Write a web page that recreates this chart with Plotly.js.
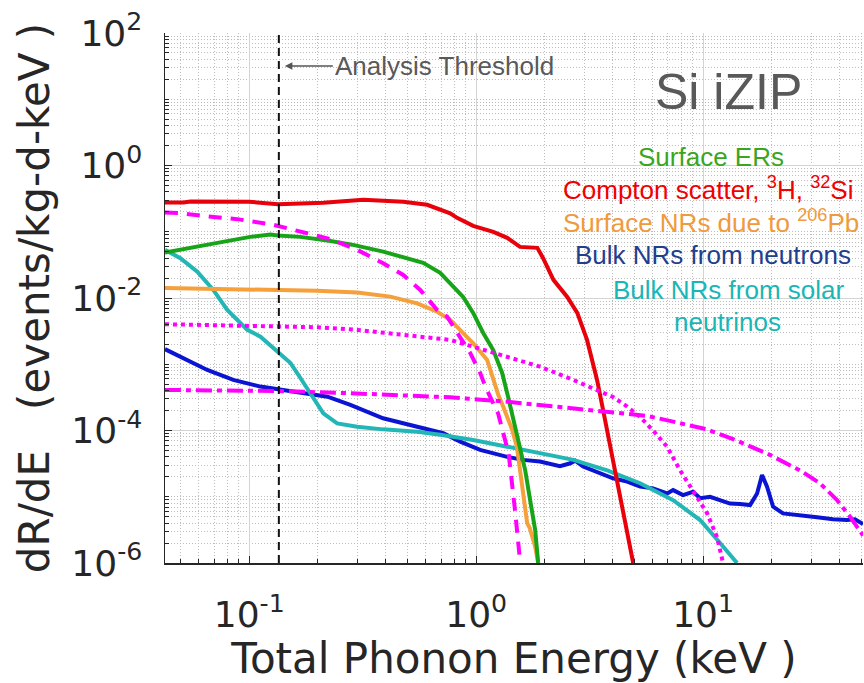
<!DOCTYPE html>
<html>
<head>
<meta charset="utf-8">
<script src="https://cdn.plot.ly/plotly-3.0.1.min.js"></script>
<style>
  html, body { margin: 0; padding: 0; background: #fff; }
  #chart { width: 864px; height: 683px; }
</style>
</head>
<body>
<div id="chart"></div>
<script>
// Background spectra for the Si iZIP detector: dR/dE vs total phonon energy.

// Compton scatter, 3H, 32Si
const comptonE = [0.0425, 0.0512, 0.055, 0.0745, 0.1, 0.134, 0.212, 0.318, 0.366, 0.477, 0.608, 0.694, 0.768, 0.824, 0.97, 1.19, 1.37, 1.56, 1.86, 1.97, 2.19, 2.52, 2.79, 3.08, 3.34, 3.41, 3.63, 4.02, 4.44, 4.92];
const comptonRate = [0.276, 0.276, 0.286, 0.285, 0.283, 0.261, 0.273, 0.303, 0.296, 0.283, 0.255, 0.215, 0.19, 0.162, 0.123, 0.0996, 0.0809, 0.0591, 0.0571, 0.0403, 0.0188, 0.0104, 0.00596, 0.00233, 0.00074, 0.00058, 0.0002, 3.2e-5, 5.7e-6, 1e-6];

// Surface ERs
const surfErE = [0.0425, 0.0512, 0.0723, 0.101, 0.124, 0.134, 0.168, 0.221, 0.287, 0.389, 0.477, 0.584, 0.694, 0.792, 0.876, 0.970, 1.074, 1.189, 1.302, 1.383, 1.531, 1.644, 1.729, 1.82, 1.876];
const surfErRate = [0.0485, 0.0552, 0.068, 0.0837, 0.0907, 0.0876, 0.0837, 0.0736, 0.0634, 0.0502, 0.0418, 0.0339, 0.024, 0.0152, 0.0104, 0.00596, 0.00297, 0.00164, 0.00074, 0.00032, 7.2e-5, 2.53e-5, 8.9e-6, 3.14e-6, 1e-6];

// Surface NRs due to 206Pb
const surfNrE = [0.0425, 0.0723, 0.134, 0.199, 0.299, 0.418, 0.55, 0.673, 0.768, 0.824, 0.97, 1.118, 1.189, 1.25, 1.315, 1.441, 1.511, 1.678, 1.72, 1.82, 1.876];
const surfNrRate = [0.0141, 0.0136, 0.0133, 0.0129, 0.0121, 0.0105, 0.0083, 0.0062, 0.0047, 0.0037, 0.00207, 0.00116, 0.00058, 0.00035, 0.00023, 0.000102, 5.7e-5, 4.0e-6, 3.4e-6, 1.76e-6, 1e-6];

// Bulk NRs from neutrons
const neutronE = [0.0425, 0.0512, 0.0653, 0.085, 0.112, 0.134, 0.168, 0.221, 0.279, 0.389, 0.55, 0.716, 0.85, 1.041, 1.37, 1.61, 1.91, 2.34, 2.60, 2.73, 2.96, 3.41, 4.01, 4.63, 5.28, 6.02, 6.94, 7.38, 8.16, 9.03, 9.70, 10.74, 11.88, 13.15, 14.55, 16.11, 17.3, 18.19, 19.14, 20.34, 22.5, 26.75, 31.8, 37.4, 43.1, 46.7, 50.7];
const neutronRate = [1.69e-3, 1.23e-3, 8.2e-4, 5.8e-4, 4.6e-4, 4.19e-4, 3.72e-4, 3.24e-4, 2.43e-4, 1.53e-4, 1.14e-4, 9.1e-5, 6.8e-5, 5.1e-5, 4.0e-5, 3.6e-5, 3.4e-5, 2.9e-5, 3.2e-5, 3.5e-5, 2.86e-5, 2.39e-5, 1.9e-5, 1.69e-5, 1.42e-5, 1.34e-5, 1.12e-5, 1.26e-5, 1.06e-5, 1.19e-5, 9.5e-6, 1.0e-5, 8.9e-6, 7.9e-6, 7.8e-6, 7.5e-6, 1.12e-5, 2.13e-5, 1.42e-5, 7.1e-6, 5.6e-6, 5.3e-6, 4.9e-6, 4.56e-6, 4.45e-6, 4.56e-6, 3.87e-6];

// Bulk NRs from solar neutrinos
const solarE = [0.0425, 0.0497, 0.059, 0.0694, 0.08, 0.098, 0.112, 0.134, 0.152, 0.168, 0.178, 0.191, 0.212, 0.244, 0.299, 0.389, 0.55, 0.694, 0.97, 1.37, 1.91, 2.68, 3.78, 5.28, 7.38, 9.70, 11.88, 14.12];
const solarRate = [0.0533, 0.0399, 0.025, 0.01325, 0.0066, 0.0033, 0.00261, 0.00155, 0.00104, 0.00062, 0.00046, 0.00032, 0.000182, 0.000128, 0.000114, 0.000104, 9.6e-5, 8.6e-5, 7.2e-5, 5.7e-5, 4.5e-5, 3.6e-5, 2.5e-5, 1.6e-5, 8.9e-6, 4.45e-6, 2.0e-6, 1.0e-6];

// Magenta dashed component
const dashedE = [0.0425, 0.0497, 0.0653, 0.0886, 0.128, 0.168, 0.228, 0.299, 0.389, 0.477, 0.567, 0.673, 0.745, 0.824, 0.941, 1.041, 1.10, 1.25, 1.39, 1.485, 1.564];
const dashedRate = [0.195, 0.191, 0.170, 0.155, 0.127, 0.101, 0.0773, 0.0533, 0.0335, 0.0223, 0.01325, 0.0066, 0.00523, 0.0030, 0.00148, 0.00074, 0.00045, 0.00018, 4.5e-5, 6e-6, 1e-6];

// Magenta dotted component
const dottedE = [0.0425, 0.0723, 0.134, 0.199, 0.299, 0.418, 0.55, 0.768, 0.97, 1.37, 1.91, 2.68, 3.41, 4.01, 4.63, 5.28, 6.02, 6.94, 7.92, 9.03, 10.4, 11.5, 12.25];
const dottedRate = [0.00402, 0.00392, 0.00379, 0.00362, 0.0033, 0.00294, 0.00261, 0.00233, 0.00184, 0.0013, 9.2e-4, 5.8e-4, 4.1e-4, 3.2e-4, 2.3e-4, 1.6e-4, 1.0e-4, 5.7e-5, 2.5e-5, 1.26e-5, 5.7e-6, 2.5e-6, 1e-6];

// Magenta dash-dot component
const dashDotE = [0.0425, 0.0723, 0.134, 0.279, 0.55, 0.768, 1.37, 2.675, 4.63, 5.67, 7.38, 10.4, 13.56, 19.14, 26.75, 32.76, 38.93, 44.42, 50.7];
const dashDotRate = [4.09e-4, 3.99e-4, 3.95e-4, 3.65e-4, 3.32e-4, 3.17e-4, 2.72e-4, 2.16e-4, 1.82e-4, 1.66e-4, 1.36e-4, 1.04e-4, 7.4e-5, 4.5e-5, 2.5e-5, 1.6e-5, 8.9e-6, 5.0e-6, 2.6e-6];

// Analysis threshold (keV)
const thresholdE = 0.135;

// Tick labels
const xTickVals = [0.1, 1, 10];
const xTickText = ['10<sup>-1</sup>', '10<sup>0</sup>', '10<sup>1</sup>'];
const yTickVals = [1e-6, 1e-4, 1e-2, 1, 100];
const yTickText = ['10<sup>-6</sup>', '10<sup>-4</sup>', '10<sup>-2</sup>', '10<sup>0</sup>', '10<sup>2</sup>'];

// Minor log ticks: every 1..9 x 10^n that is not already a labelled tick
function minorTicks(pMin, pMax, majors) {
  const out = [];
  for (let p = pMin; p <= pMax; p++) {
    for (let m = 1; m <= 9; m++) {
      const v = m * Math.pow(10, p);
      if (!majors.some(t => Math.abs(t - v) / v < 1e-9)) out.push(v);
    }
  }
  return out;
}

function curve(x, y, color, dash, width) {
  return {
    type: 'scatter', mode: 'lines', x: x, y: y,
    line: { color: color, dash: dash, width: width },
    hoverinfo: 'skip', showlegend: false
  };
}

const traces = [
  curve(neutronE, neutronRate, '#0a14d2', 'solid', 4),
  curve(solarE, solarRate, '#22b6b6', 'solid', 4),
  curve(surfNrE, surfNrRate, '#f5a03a', 'solid', 4),
  curve(surfErE, surfErRate, '#18a418', 'solid', 4),
  curve(comptonE, comptonRate, '#e8000b', 'solid', 4),
  curve(dottedE, dottedRate, '#ff00ff', '4px,4px', 4),
  curve(dashDotE, dashDotRate, '#ff00ff', '16px,5px,5px,5px', 4),
  curve(dashedE, dashedRate, '#ff00ff', '13px,9px', 4),
  curve([thresholdE, thresholdE], [1e-6, 1e2], '#111111', '8px,5px', 2)
];

const tickFont = { family: 'DejaVu Sans', size: 36, color: '#262626' };
const titleFont = { family: 'DejaVu Sans', size: 42, color: '#262626' };

const axisCommon = {
  type: 'log',
  tickmode: 'array',
  ticks: 'inside', ticklen: 7, tickwidth: 1, tickcolor: '#262626',
  showline: true, linecolor: '#262626', linewidth: 1.5, mirror: false,
  showgrid: true, gridcolor: '#d4d4d4', gridwidth: 1,
  zeroline: false, automargin: false,
  tickfont: tickFont
};

const legendFont = s => ({ family: 'Liberation Sans, Arial, sans-serif', size: s });

const annotations = [
  { xref: 'x', yref: 'paper', x: Math.log10(thresholdE), y: 0.9377,
    text: 'Analysis Threshold', showarrow: true, ax: 54, ay: 0,
    xanchor: 'left', standoff: 6, arrowhead: 2, arrowsize: 1, arrowwidth: 1.5,
    arrowcolor: '#555555', font: Object.assign(legendFont(26), { color: '#595959' }) },
  { xref: 'paper', yref: 'paper', x: 0.8066, y: 0.8887, text: 'Si iZIP', showarrow: false,
    xanchor: 'center', yanchor: 'middle', font: Object.assign(legendFont(50), { color: '#595959' }) },
  { xref: 'paper', yref: 'paper', x: 0.7822, y: 0.7345, text: 'Surface ERs', showarrow: false,
    xanchor: 'center', yanchor: 'bottom', font: Object.assign(legendFont(26), { color: '#3aa61e' }) },
  { xref: 'paper', yref: 'paper', x: 0.7779, y: 0.6717, text: 'Compton scatter, <sup>3</sup>H, <sup>32</sup>Si', showarrow: false,
    xanchor: 'center', yanchor: 'bottom', font: Object.assign(legendFont(26), { color: '#f00000' }) },
  { xref: 'paper', yref: 'paper', x: 0.7822, y: 0.6089, text: 'Surface NRs due to <sup>206</sup>Pb', showarrow: false,
    xanchor: 'center', yanchor: 'bottom', font: Object.assign(legendFont(26), { color: '#ef9a3c' }) },
  { xref: 'paper', yref: 'paper', x: 0.7851, y: 0.5491, text: 'Bulk NRs from neutrons', showarrow: false,
    xanchor: 'center', yanchor: 'bottom', font: Object.assign(legendFont(26), { color: '#223e8c' }) },
  { xref: 'paper', yref: 'paper', x: 0.8066, y: 0.483, text: 'Bulk NRs from solar', showarrow: false,
    xanchor: 'center', yanchor: 'bottom', font: Object.assign(legendFont(26), { color: '#19b6b6' }) },
  { xref: 'paper', yref: 'paper', x: 0.8052, y: 0.4232, text: 'neutrinos', showarrow: false,
    xanchor: 'center', yanchor: 'bottom', font: Object.assign(legendFont(26), { color: '#19b6b6' }) }
];

const layout = {
  width: 864, height: 683,
  margin: { l: 165, r: 1, t: 33, b: 120, pad: 0 },
  paper_bgcolor: '#ffffff', plot_bgcolor: '#ffffff',
  showlegend: false,
  xaxis: Object.assign({}, axisCommon, {
    range: [-1.3714, 1.7048],
    tickvals: xTickVals, ticktext: xTickText,
    ticklabelstandoff: 19,
    minor: { tickvals: minorTicks(-2, 1, xTickVals), ticks: 'inside', ticklen: 4, tickcolor: '#262626',
             showgrid: true, gridcolor: '#bdbdbd', gridwidth: 1, griddash: '1px,2px' },
    title: { text: 'Total Phonon Energy (keV )', font: titleFont, standoff: 4 }
  }),
  yaxis: Object.assign({}, axisCommon, {
    range: [-6, 2],
    tickvals: yTickVals, ticktext: yTickText,
    ticklabelstandoff: 14,
    minor: { tickvals: minorTicks(-6, 1, yTickVals), ticks: 'inside', ticklen: 4, tickcolor: '#262626',
             showgrid: true, gridcolor: '#bdbdbd', gridwidth: 1, griddash: '1px,2px' },
    title: { text: 'dR/dE\u00a0\u00a0\u00a0(events/kg-d-keV )', font: titleFont, standoff: 8 }
  }),
  annotations: annotations
};

Plotly.newPlot('chart', traces, layout, { displayModeBar: false, staticPlot: true });
</script>
</body>
</html>
